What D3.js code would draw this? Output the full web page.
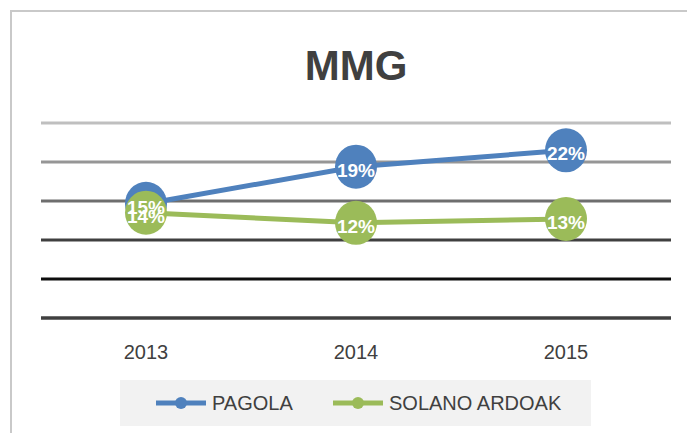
<!DOCTYPE html>
<html>
<head>
<meta charset="utf-8">
<script src="https://cdn.jsdelivr.net/npm/d3@7"></script>
<style>
  body { margin: 0; background: #fff; }
  text { font-family: "Liberation Sans", Arial, sans-serif; }
</style>
</head>
<body>
<div id="chart"></div>
<script>
var svgWidth = 687;
var svgHeight = 433;

// data
var years = ["2013", "2014", "2015"];
var pagola = [14.65, 19.4, 21.5];
var solano = [13.5, 12.2, 12.7];
var pagolaLabels = ["15%", "19%", "22%"];
var solanoLabels = ["14%", "12%", "13%"];
var yTicks = [0, 5, 10, 15, 20, 25];
var seriesNames = ["PAGOLA", "SOLANO ARDOAK"];
var seriesColors = ["#4f81bd", "#9bbb59"];
var gridColors = ["#404040", "#0d0d0d", "#404040", "#6e6e6e", "#969696", "#bfbfbf"];

var margin = { top: 123, right: 16, bottom: 115, left: 41 };
var width = 671 - margin.left;
var height = 318 - margin.top;

var svg = d3.select("#chart")
  .append("svg")
  .attr("width", svgWidth)
  .attr("height", svgHeight);

// outer chart border (runs off the right and bottom)
svg.append("rect")
  .attr("x", 11)
  .attr("y", 11)
  .attr("width", 700)
  .attr("height", 450)
  .attr("fill", "none")
  .attr("stroke", "#c9c9c9")
  .attr("stroke-width", 2);

// title
svg.append("text")
  .attr("x", 356)
  .attr("y", 80)
  .attr("text-anchor", "middle")
  .attr("font-size", 42)
  .attr("font-weight", "bold")
  .attr("fill", "#404040")
  .text("MMG");

var chartGroup = svg.append("g")
  .attr("transform", `translate(${margin.left}, ${margin.top})`);

var xScale = d3.scaleBand()
  .domain(years)
  .range([0, width]);

var yScale = d3.scaleLinear()
  .domain([0, 25])
  .range([height, 0]);

var xPos = function(d){ return xScale(d) + xScale.bandwidth() / 2; };

// gridlines, each a different grey
chartGroup.selectAll(".grid")
  .data(yTicks)
  .enter()
  .append("line")
  .attr("class", "grid")
  .attr("x1", 0)
  .attr("x2", width)
  .attr("y1", d => yScale(d))
  .attr("y2", d => yScale(d))
  .attr("stroke", (d, i) => gridColors[i])
  .attr("stroke-width", (d, i) => i === 0 ? 3.5 : 3);

// x axis labels
var xAxis = chartGroup.append("g")
  .attr("transform", `translate(0, ${height})`)
  .call(d3.axisBottom(xScale).tickSize(0).tickPadding(27));
xAxis.select(".domain").remove();
xAxis.selectAll("text")
  .attr("font-size", 20)
  .attr("font-family", "Liberation Sans, Arial, sans-serif")
  .attr("fill", "#404040");

var series = [
  { values: pagola, labels: pagolaLabels, color: seriesColors[0] },
  { values: solano, labels: solanoLabels, color: seriesColors[1] }
];

var line = d3.line()
  .x((d, i) => xPos(years[i]))
  .y(d => yScale(d));

// lines and markers
series.forEach(function(s){
  chartGroup.append("path")
    .datum(s.values)
    .attr("d", line)
    .attr("fill", "none")
    .attr("stroke", s.color)
    .attr("stroke-width", 5);

  chartGroup.selectAll(null)
    .data(s.values)
    .enter()
    .append("ellipse")
    .attr("cx", (d, i) => xPos(years[i]))
    .attr("cy", d => yScale(d))
    .attr("rx", 21)
    .attr("ry", 22)
    .attr("fill", s.color);
});

// data labels sit above everything
series.forEach(function(s){
  chartGroup.selectAll(null)
    .data(s.values)
    .enter()
    .append("text")
    .attr("x", (d, i) => xPos(years[i]))
    .attr("y", d => yScale(d) + 10)
    .attr("text-anchor", "middle")
    .attr("font-size", 19)
    .attr("font-weight", "bold")
    .attr("fill", "#fff")
    .text((d, i) => s.labels[i]);
});

// legend
var legend = svg.append("g");
legend.append("rect")
  .attr("x", 120)
  .attr("y", 380)
  .attr("width", 471)
  .attr("height", 46)
  .attr("fill", "#f2f2f2");

var legendX = [156, 333];
seriesNames.forEach(function(name, i){
  var g = legend.append("g")
    .attr("transform", `translate(${legendX[i]}, 403)`);
  g.append("line")
    .attr("x1", 0)
    .attr("x2", 50)
    .attr("stroke", seriesColors[i])
    .attr("stroke-width", 5);
  g.append("circle")
    .attr("cx", 25)
    .attr("r", 6)
    .attr("fill", seriesColors[i]);
  g.append("text")
    .attr("x", 56)
    .attr("y", 7)
    .attr("font-size", 20)
    .attr("fill", "#404040")
    .text(name);
});
</script>
</body>
</html>
